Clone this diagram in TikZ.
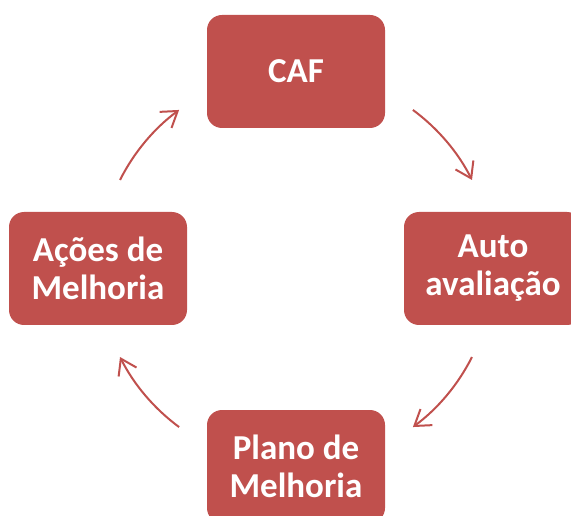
\documentclass[tikz,border=0pt]{standalone}
\usepackage{fontspec}
\setmainfont{Carlito}
\usetikzlibrary{arrows.meta,positioning}
\definecolor{boxred}{HTML}{C0504D}

\begin{document}
\begin{tikzpicture}[x=1pt,y=1pt,
					stage/.style={fill=boxred, draw=none, rounded corners=15pt,
						minimum width=178pt, minimum height=113pt, align=center,
						text=white, font=\fontsize{35}{38}\selectfont\bfseries},
					cyc/.style={draw=boxred, line width=2pt,
						-{Straight Barb[length=15pt,width=20pt,line width=2pt]}}]
				\useasboundingbox (0,0) rectangle (571,515);
				\coordinate (hub) at (296,246.5);
				% the four stages
				\node[stage] (caf) at (296,443.5) {CAF};
				\node[stage] (auto) at (493,246.5) {Auto\\avaliação};
				\node[stage] (plano) at (296,48.5) {Plano de\\Melhoria};
				\node[stage] (acoes) at (98,246.5) {Ações de\\Melhoria};
				% arrows round the cycle
				\draw[cyc] ([shift={(53.6:197)}]hub) arc[start angle=53.6, end angle=26.7, radius=197];
				\draw[cyc] ([shift={(-26.7:197)}]hub) arc[start angle=-26.7, end angle=-53.6, radius=197];
				\draw[cyc] ([shift={(-126.4:197)}]hub) arc[start angle=-126.4, end angle=-153.3, radius=197];
				\draw[cyc] ([shift={(153.3:197)}]hub) arc[start angle=153.3, end angle=126.4, radius=197];
\end{tikzpicture}
\end{document}
